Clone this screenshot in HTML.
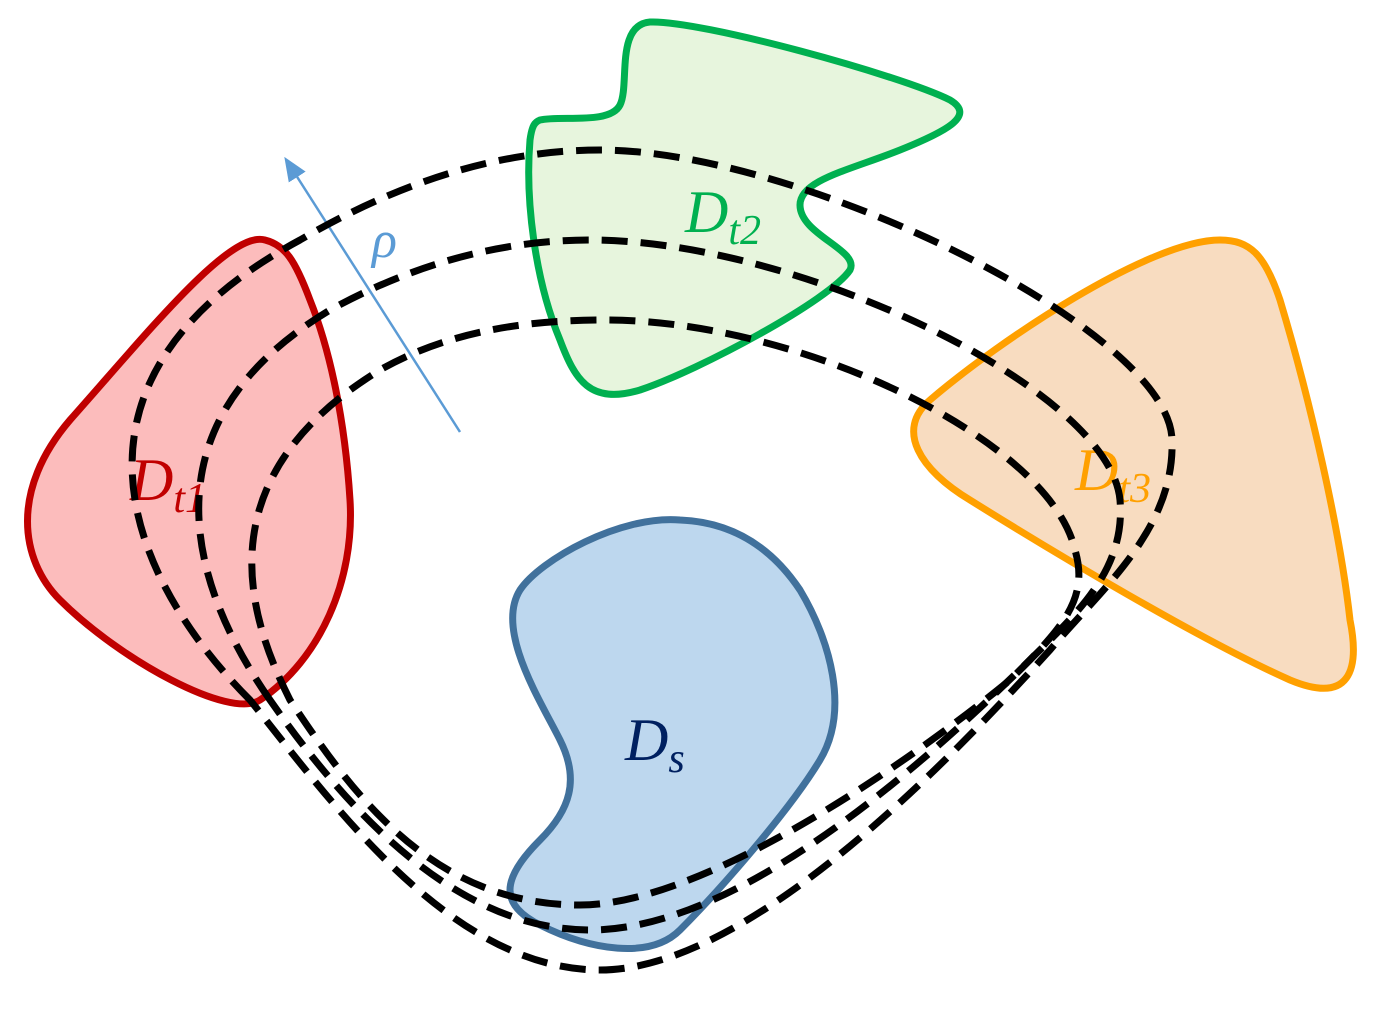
<!DOCTYPE html>
<html><head><style>html,body{margin:0;padding:0;background:#fff}svg{display:block}</style></head><body>
<svg width="1390" height="1027" viewBox="0 0 1390 1027" xmlns="http://www.w3.org/2000/svg">
<defs><marker id="ah" markerWidth="24" markerHeight="24" refX="6" refY="12" orient="auto" markerUnits="userSpaceOnUse" viewBox="0 0 24 24"><path d="M0,2 L24,12 L0,22 Z" fill="#5b9bd5"/></marker></defs>
<path d="M540,120 C560,115 610,125 620,105 C630,85 615,25 650,22 C700,20 900,75 950,100 C975,115 950,130 900,150 C850,170 800,180 800,205 C800,235 860,250 850,270 C830,300 700,370 640,390 C590,405 575,380 560,340 C535,280 525,200 530,140 C532,125 535,122 540,120 Z" fill="#e7f5dd" stroke="#00b050" stroke-width="7"/>
<path d="M265,240 C230,230 150,330 70,420 C10,490 20,560 60,600 C120,660 230,720 260,700 C320,660 355,580 350,500 C345,420 330,350 310,300 C295,260 285,245 265,240 Z" fill="#fcbcbc" stroke="#c00000" stroke-width="7"/>
<path d="M1220,240 C1150,240 1000,340 930,400 C895,430 920,470 970,500 C1050,550 1200,640 1290,680 C1350,705 1360,670 1350,620 C1340,530 1310,400 1280,300 C1265,255 1250,240 1220,240 Z" fill="#f8dcc0" stroke="#ffa000" stroke-width="7"/>
<path d="M680,520 C620,515 540,560 520,590 C495,630 540,700 560,740 C580,780 570,810 540,840 C500,880 500,905 540,925 C590,950 650,960 680,930 C720,890 790,810 820,760 C850,710 830,640 800,590 C770,545 730,522 680,520 Z" fill="#bdd7ee" stroke="#41719c" stroke-width="7"/>
<line x1="460" y1="432" x2="294" y2="172" stroke="#5b9bd5" stroke-width="2.5" marker-end="url(#ah)"/>
<g font-family="'Liberation Serif',serif" font-style="italic" font-size="60">
<text x="130" y="500" fill="#c00000">D<tspan font-size="42" dy="12">t1</tspan></text>
<text x="685" y="232" fill="#00b050">D<tspan font-size="42" dy="12">t2</tspan></text>
<text x="1075" y="490" fill="#ffa000">D<tspan font-size="42" dy="12">t3</tspan></text>
<text x="625" y="760" fill="#002060">D<tspan font-size="42" dy="12">s</tspan></text>
<text x="372" y="257" fill="#5b9bd5" font-size="52">ρ</text>
</g>
<g fill="none" stroke="#000" stroke-width="7" stroke-dasharray="26 13">
<path d="M250,700 C130,580 40,380 300,240 C420,170 520,150 600,150 C800,150 1170,330 1172,440 C1175,530 1100,590 1050,650 C950,760 750,970 600,970 C450,970 330,800 250,700 Z"/>
<path d="M270,700 C200,600 130,430 330,310 C430,255 520,240 590,240 C800,240 1110,390 1120,500 C1125,560 1090,600 1050,640 C950,740 750,930 590,930 C450,930 340,800 270,700 Z"/>
<path d="M290,700 C250,620 200,480 380,370 C450,330 530,320 605,320 C800,320 1050,440 1075,550 C1090,600 1060,630 1010,680 C900,770 700,905 580,905 C430,905 350,790 290,700 Z"/>
</g>
</svg>
</body></html>
